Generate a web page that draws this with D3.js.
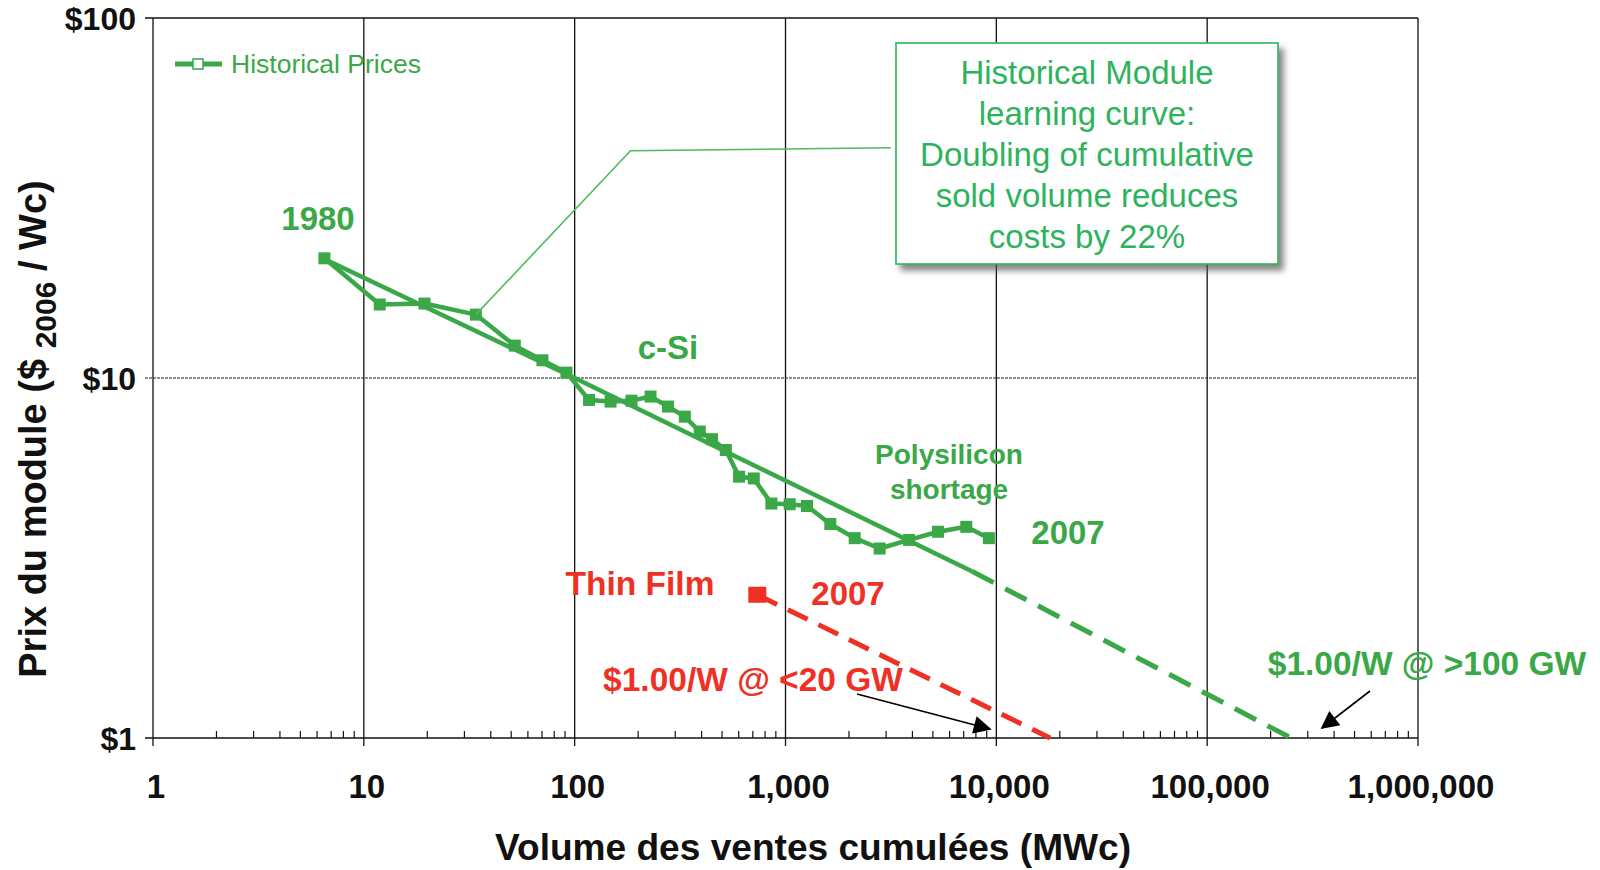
<!DOCTYPE html>
<html>
<head>
<meta charset="utf-8">
<script src="https://cdnjs.cloudflare.com/ajax/libs/d3/7.8.5/d3.min.js"></script>
<style>
  body { margin: 0; background: #fff; }
  svg { display: block; font-family: "Liberation Sans", Arial, sans-serif; }
</style>
</head>
<body>
<div id="chart"></div>
<script>
// chart values
var histVolume = [6.5, 11.9, 19.4, 34, 52, 70.3, 91.4, 117, 148, 186, 229, 277, 333, 392, 448, 521, 602, 707, 857, 1047, 1265, 1631, 2129, 2797, 3855, 5290, 7200, 9220];
var histPrice = [21.5, 16.0, 16.1, 15.0, 12.3, 11.2, 10.35, 8.69, 8.6, 8.65, 8.88, 8.33, 7.81, 7.10, 6.76, 6.31, 5.32, 5.26, 4.48, 4.46, 4.41, 3.93, 3.59, 3.36, 3.55, 3.74, 3.86, 3.59];
var trendVolume = [6.5, 100, 7700];
var trendPrice = [21.4, 10, 2.9];
var trendFutureVolume = [7700, 250000];
var trendFuturePrice = [2.9, 1.0];
var thinVolume = [735, 18000];
var thinPrice = [2.5, 1.0];
var xTicks = [1, 10, 100, 1000, 10000, 100000, 1000000];
var xTickLabels = ["1", "10", "100", "1,000", "10,000", "100,000", "1,000,000"];
var yTicks = [1, 10, 100];
var yTickLabels = ["$1", "$10", "$100"];
var boxLines = ["Historical Module", "learning curve:", "Doubling of cumulative", "sold volume reduces", "costs by 22%"];
// leader from the 4th historical point to the box (volume, price)
var leaderVolume = [184, 3160];
var leaderPrice = [42.8, 43.6];

var green = "#3aa847";
var boxGreen = "#2db35c";
var red = "#ee3124";

var svgWidth = 1600;
var svgHeight = 870;
var margin = { top: 18, right: 182, bottom: 132, left: 153 };
var chartWidth = svgWidth - margin.left - margin.right;
var chartHeight = svgHeight - margin.top - margin.bottom;

var svg = d3.select("#chart")
  .append("svg")
  .attr("width", svgWidth)
  .attr("height", svgHeight);

var defs = svg.append("defs");
var shadow = defs.append("filter").attr("id", "shadow")
  .attr("x", "-10%").attr("y", "-10%").attr("width", "130%").attr("height", "130%");
shadow.append("feDropShadow")
  .attr("dx", 5).attr("dy", 6).attr("stdDeviation", 3)
  .attr("flood-color", "#555").attr("flood-opacity", 0.7);

var chartGroup = svg.append("g")
  .attr("transform", `translate(${margin.left}, ${margin.top})`);

var x = d3.scaleLog().domain([1, 1000000]).range([0, chartWidth]);
var y = d3.scaleLog().domain([1, 100]).range([chartHeight, 0]);

// minor ticks 2..9 in each decade
var minor = [];
xTicks.slice(0, -1).forEach(function(d) {
  for (var k = 2; k < 10; k++) minor.push(d * k);
});

// vertical grid lines
chartGroup.append("g")
  .selectAll("line")
  .data(xTicks)
  .enter().append("line")
  .attr("x1", d => x(d)).attr("x2", d => x(d))
  .attr("y1", 0).attr("y2", chartHeight + 8)
  .attr("stroke", "#111").attr("stroke-width", 1.3);

// $10 line
chartGroup.append("line")
  .attr("x1", -8).attr("x2", chartWidth)
  .attr("y1", y(10)).attr("y2", y(10))
  .attr("stroke", "#222").attr("stroke-width", 1.2)
  .attr("stroke-dasharray", "3,1");

// top and bottom lines
chartGroup.append("line")
  .attr("x1", -8).attr("x2", chartWidth)
  .attr("y1", y(100)).attr("y2", y(100))
  .attr("stroke", "#111").attr("stroke-width", 1.5);
chartGroup.append("line")
  .attr("x1", -8).attr("x2", chartWidth)
  .attr("y1", y(1)).attr("y2", y(1))
  .attr("stroke", "#111").attr("stroke-width", 1.6);

// minor ticks on x axis
chartGroup.append("g")
  .selectAll("line")
  .data(minor)
  .enter().append("line")
  .attr("x1", d => x(d)).attr("x2", d => x(d))
  .attr("y1", chartHeight).attr("y2", chartHeight - 7)
  .attr("stroke", "#111").attr("stroke-width", 1.2);

// tick labels
chartGroup.append("g")
  .selectAll("text")
  .data(xTicks)
  .enter().append("text")
  .attr("x", d => x(d) + 3)
  .attr("y", chartHeight + 60)
  .attr("text-anchor", "middle")
  .attr("font-size", 33)
  .attr("font-weight", "bold")
  .attr("fill", "#111")
  .text((d, i) => xTickLabels[i]);

chartGroup.append("g")
  .selectAll("text")
  .data(yTicks)
  .enter().append("text")
  .attr("x", -17)
  .attr("y", d => y(d) + 12)
  .attr("text-anchor", "end")
  .attr("font-size", 32)
  .attr("font-weight", "bold")
  .attr("fill", "#111")
  .text((d, i) => yTickLabels[i]);

// axis titles
svg.append("text")
  .attr("x", 813).attr("y", 860)
  .attr("text-anchor", "middle")
  .attr("font-size", 36)
  .attr("font-weight", "bold")
  .attr("fill", "#111")
  .attr("textLength", 636)
  .attr("lengthAdjust", "spacingAndGlyphs")
  .text("Volume des ventes cumulées (MWc)");

var yTitle = svg.append("text")
  .attr("transform", "translate(46, 429) rotate(-90)")
  .attr("text-anchor", "middle")
  .attr("font-size", 38)
  .attr("font-weight", "bold")
  .attr("fill", "#111");
yTitle.append("tspan").text("Prix du module ($ ");
yTitle.append("tspan").attr("font-size", 30).attr("dy", 10).text("2006");
yTitle.append("tspan").attr("dy", -10).text(" / Wc)");

// line helper
var line = d3.line()
  .x(d => x(d[0]))
  .y(d => y(d[1]));

// learning curve trend
chartGroup.append("path")
  .attr("d", line(d3.zip(trendVolume, trendPrice)))
  .attr("fill", "none")
  .attr("stroke", green)
  .attr("stroke-width", 4.5);
chartGroup.append("path")
  .attr("d", line(d3.zip(trendFutureVolume, trendFuturePrice)))
  .attr("fill", "none")
  .attr("stroke", green)
  .attr("stroke-width", 5)
  .attr("stroke-dasharray", "24,13");

// thin film projection
chartGroup.append("path")
  .attr("d", line(d3.zip(thinVolume, thinPrice)))
  .attr("fill", "none")
  .attr("stroke", red)
  .attr("stroke-width", 5)
  .attr("stroke-dasharray", "22,12");
chartGroup.append("rect")
  .attr("x", x(thinVolume[0]) - 9)
  .attr("y", y(thinPrice[0]) - 8)
  .attr("width", 18).attr("height", 16)
  .attr("fill", red);

// historical prices
var hist = d3.zip(histVolume, histPrice);
chartGroup.append("path")
  .attr("d", line(hist))
  .attr("fill", "none")
  .attr("stroke", green)
  .attr("stroke-width", 4.5)
  .attr("stroke-linejoin", "round");
chartGroup.selectAll(".dot")
  .data(hist)
  .enter().append("rect")
  .attr("class", "dot")
  .attr("x", d => x(d[0]) - 6)
  .attr("y", d => y(d[1]) - 6)
  .attr("width", 12).attr("height", 12)
  .attr("fill", green);

// callout leader from the curve to the box
var leader = [hist[3]].concat(d3.zip(leaderVolume, leaderPrice));
chartGroup.append("path")
  .attr("d", line(leader))
  .attr("fill", "none")
  .attr("stroke", "#4cbb5c")
  .attr("stroke-width", 1.6);

// annotation box
var box = svg.append("g");
box.append("rect")
  .attr("x", 896).attr("y", 43)
  .attr("width", 382).attr("height", 221)
  .attr("fill", "#fff")
  .attr("stroke", boxGreen)
  .attr("stroke-width", 1.6)
  .attr("filter", "url(#shadow)");
box.selectAll("text")
  .data(boxLines)
  .enter().append("text")
  .attr("x", 1087)
  .attr("y", (d, i) => 84 + i * 41)
  .attr("text-anchor", "middle")
  .attr("font-size", 33)
  .attr("fill", boxGreen)
  .text(d => d);

// legend
var legend = svg.append("g");
legend.append("line")
  .attr("x1", 175).attr("x2", 222)
  .attr("y1", 64).attr("y2", 64)
  .attr("stroke", green).attr("stroke-width", 5);
legend.append("rect")
  .attr("x", 193).attr("y", 59)
  .attr("width", 10).attr("height", 10)
  .attr("fill", "#fff").attr("stroke", green).attr("stroke-width", 1.5);
legend.append("text")
  .attr("x", 231).attr("y", 73)
  .attr("font-size", 26.5)
  .attr("fill", green)
  .text("Historical Prices");

// labels on the chart
function label(txt, px, py, color, size) {
  svg.append("text")
    .attr("x", px).attr("y", py)
    .attr("text-anchor", "middle")
    .attr("font-size", size)
    .attr("font-weight", "bold")
    .attr("fill", color)
    .text(txt);
}
label("1980", 318, 230, green, 33);
label("c-Si", 668, 359, green, 33);
label("Polysilicon", 949, 464, green, 28);
label("shortage", 949, 499, green, 28);
label("2007", 1068, 544, green, 33);
label("Thin Film", 640, 595, red, 33.5);
label("2007", 848, 605, red, 33);
label("$1.00/W @ <20 GW", 753, 691, red, 33.5);
label("$1.00/W @ >100 GW", 1427, 675, green, 33.5);

// arrows
defs.append("marker")
  .attr("id", "arrow")
  .attr("viewBox", "0 0 10 10")
  .attr("refX", 9).attr("refY", 5)
  .attr("markerWidth", 22).attr("markerHeight", 18)
  .attr("markerUnits", "userSpaceOnUse")
  .attr("orient", "auto")
  .append("path")
  .attr("d", "M0,0 L10,5 L0,10 Z")
  .attr("fill", "#000");

svg.append("line")
  .attr("x1", 857).attr("y1", 694)
  .attr("x2", 990).attr("y2", 729)
  .attr("stroke", "#000").attr("stroke-width", 1.6)
  .attr("marker-end", "url(#arrow)");
svg.append("line")
  .attr("x1", 1370).attr("y1", 691)
  .attr("x2", 1322).attr("y2", 728)
  .attr("stroke", "#000").attr("stroke-width", 1.6)
  .attr("marker-end", "url(#arrow)");
</script>
</body>
</html>
